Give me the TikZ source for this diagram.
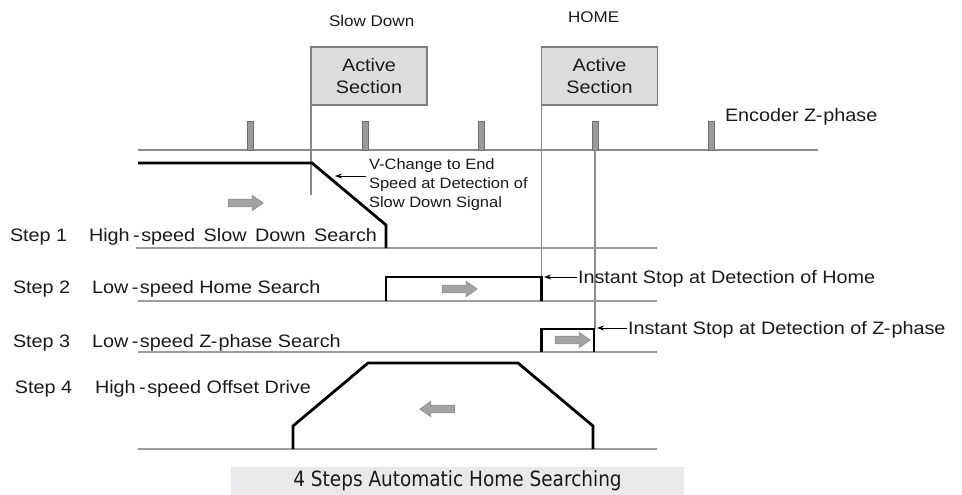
\documentclass[tikz,border=0pt]{standalone}
\usepackage{fontspec}
\setmainfont[FakeStretch=1.1]{Liberation Sans}
\newfontfamily\capfont[FakeStretch=0.88]{DejaVu Sans}
\usetikzlibrary{arrows.meta,shapes.arrows}
\definecolor{txt}{HTML}{1A1A1A}
\definecolor{boxfill}{HTML}{DCDCDC}
\definecolor{boxline}{HTML}{7F7F7F}
\definecolor{pulsefill}{HTML}{9A9A9A}
\definecolor{pulseline}{HTML}{6E6E6E}
\definecolor{baseln}{HTML}{9C9C9C}
\definecolor{guideln}{HTML}{8A8A8A}
\definecolor{arrowfill}{HTML}{A3A3A3}
\definecolor{arrowline}{HTML}{8C8C8C}
\definecolor{capfill}{HTML}{E9E9EB}
\newcommand\hy{\kern3.5pt-\kern1.5pt}
\begin{document}
\begin{tikzpicture}[x=1pt,y=-1pt,
  every node/.style={inner sep=0pt, outer sep=0pt, text=txt},
  lbl/.style={anchor=base west, font=\fontsize{18}{22}\selectfont},
  toplbl/.style={anchor=base west, font=\fontsize{15.5}{19}\selectfont},
  actbox/.style={draw=boxline, fill=boxfill, line width=1.2pt, minimum width=116pt, minimum height=58pt, align=center, font=\fontsize{18}{22}\selectfont},
  pulse/.style={draw=pulseline, fill=pulsefill, line width=0.8pt, minimum width=6pt, minimum height=29pt, anchor=south},
  prof/.style={line width=2.8pt, line join=miter, draw=black},
  baseline/.style={line width=1.6pt, draw=baseln},
  guide/.style={line width=1.1pt, draw=guideln},
  note/.style={line width=0.9pt, draw=black, -{Stealth[length=7pt,width=5pt]}},
  garrow/.style={shape=single arrow, fill=arrowfill, draw=arrowline, line width=0.6pt, minimum height=35pt, single arrow head extend=4pt, single arrow tip angle=70, inner xsep=0pt, inner ysep=3.5pt},
]
\useasboundingbox (0,0) rectangle (962,495);

% top labels
\node[toplbl] (slowdown) at (329,27) {Slow Down};
\node[toplbl] (home) at (568,23) {HOME};

% active section boxes
\node[actbox] (as1) at (369,76) {Active\\Section};
\node[actbox] (as2) at (599.5,76) {Active\\Section};

% encoder axis and pulses
\coordinate (ea) at (138,150);
\coordinate (eb) at (818,150);
\draw[guide] (ea) -- (eb);
\node[pulse] (p1) at (250.5,150) {};
\node[pulse] (p2) at (365.5,150) {};
\node[pulse] (p3) at (481,150) {};
\node[pulse] (p4) at (595,150) {};
\node[pulse] (p5) at (711,150) {};
\node[lbl] (enc) at (725,121.5) {Encoder Z\kern-0.5pt-\kern1pt phase};

% guide lines
\coordinate (v1e) at (311,195);
\coordinate (v2e) at (541.5,301);
\coordinate (s3tr) at (594,329);
\draw[guide] (as1.south west) -- (v1e);
\draw[guide] (as2.south west) -- (v2e);
\draw[guide] (p4.south) -- (p4.south |- s3tr);

% baselines
\coordinate (b1a) at (136,248); \coordinate (b1b) at (657,248);
\coordinate (b2a) at (138,301); \coordinate (b2b) at (657,301);
\coordinate (b3a) at (138,352); \coordinate (b3b) at (657,352);
\coordinate (b4a) at (138,449); \coordinate (b4b) at (657,449);
\draw[baseline] (b1a) -- (b1b);
\draw[baseline] (b2a) -- (b2b);
\draw[baseline] (b3a) -- (b3b);
\draw[baseline] (b4a) -- (b4b);

% step 1 profile
\coordinate (s1a) at (138,163);
\coordinate (s1b) at (312,163);
\coordinate (s1c) at (386,225);
\coordinate (s1d) at (386,248);
\draw[prof] (s1a) -- (s1b) -- (s1c) -- (s1d);

% step 2 profile
\coordinate (s2a) at (386,301);
\coordinate (s2b) at (386,277);
\coordinate (s2c) at (541.5,277);
\coordinate (s2d) at (541.5,301);
\draw[prof] (s2a) -- (s2b) -- (s2c) -- (s2d);

% step 3 profile
\coordinate (s3a) at (541.5,352);
\coordinate (s3b) at (541.5,329);
\coordinate (s3c) at (594,352);
\draw[prof] (s3a) -- (s3b) -- (s3tr) -- (s3c);

% step 4 profile
\coordinate (s4a) at (293,449);
\coordinate (s4b) at (293,426);
\coordinate (s4c) at (368,363);
\coordinate (s4d) at (518,363);
\coordinate (s4e) at (593,426);
\coordinate (s4f) at (593,449);
\draw[prof] (s4a) -- (s4b) -- (s4c) -- (s4d) -- (s4e) -- (s4f);

% direction arrows
\node[garrow] (a1) at (243,203) {};
\node[garrow] (a2) at (457,289) {};
\node[garrow] (a3) at (570,340) {};
\node[garrow, shape border rotate=180] (a4) at (440,409) {};

% step labels
\node[lbl] (st1) at (10,241.5) {Step 1};
\node[lbl] (d1) at (89,241.5) {High\hy speed\ \,Slow\ \,Down\ \,Search};
\node[lbl] (st2) at (13,293) {Step 2};
\node[lbl] (d2) at (92,293) {Low\hy speed Home Search};
\node[lbl] (st3) at (13,347) {Step 3};
\node[lbl] (d3) at (92,347) {Low\hy speed Z\kern-0.5pt-\kern1pt phase Search};
\node[lbl] (st4) at (15,393) {Step 4};
\node[lbl] (d4) at (95,393) {High\hy speed Offset Drive};

% annotations
\node[anchor=north west, align=left, font=\fontsize{15}{19}\selectfont] (vchg) at (369,158.5) {V-Change to End\\Speed at Detection of\\Slow Down Signal};
\coordinate (vt) at (366,176);
\coordinate (vh) at (335,176);
\draw[note] (vt) -- (vh);

\node[lbl] (hnote) at (578,283.5) {Instant Stop at Detection of Home};
\coordinate (ht) at (577,277);
\coordinate (hh) at (544,277);
\draw[note] (ht) -- (hh);

\node[lbl] (znote) at (628,334.5) {Instant Stop at Detection of Z\kern-0.5pt-\kern1pt phase};
\coordinate (zt) at (627,328);
\coordinate (zh) at (597,328);
\draw[note] (zt) -- (zh);

% caption
\node[fill=capfill, minimum width=453pt, minimum height=28pt, font=\capfont\fontsize{21}{25}\selectfont] (cap) at (457.5,481) {4 Steps Automatic Home Searching};
\end{tikzpicture}
\end{document}
